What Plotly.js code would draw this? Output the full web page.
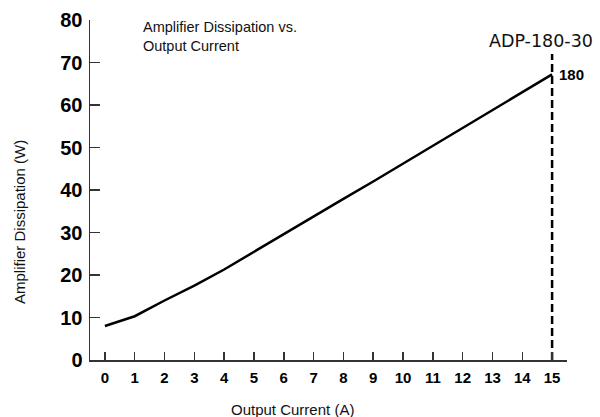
<!DOCTYPE html>
<html>
<head>
<meta charset="utf-8">
<script src="https://cdn.plot.ly/plotly-3.0.1.min.js"></script>
<style>
html,body{margin:0;padding:0;background:#fff;}
#chart{width:600px;height:417px;}
</style>
</head>
<body>
<div id="chart"></div>
<script>
// Data
const currentA = [0, 1, 2, 3, 4, 5, 6, 7, 8, 9, 10, 11, 12, 13, 14, 15];
const dissipationW = [8.0, 10.3, 14.0, 17.5, 21.3, 25.5, 29.6, 33.8, 37.9, 42.0, 46.2, 50.4, 54.5, 58.7, 62.9, 67.2];
const limitX = [15, 15];
const limitY = [0, 72];
const modelLabel = "ADP-180-30";
const endLabel = "180";
const xTicks = [0, 1, 2, 3, 4, 5, 6, 7, 8, 9, 10, 11, 12, 13, 14, 15];
const yTicks = [0, 10, 20, 30, 40, 50, 60, 70, 80];

const axisColor = '#333';
const traces = [
  {
    x: currentA, y: dissipationW, type: 'scatter', mode: 'lines',
    line: {color: '#000', width: 2.5}, hoverinfo: 'skip', showlegend: false
  },
  {
    x: limitX, y: limitY, type: 'scatter', mode: 'lines',
    line: {color: '#000', width: 2.5, dash: '8px,4px'}, hoverinfo: 'skip', showlegend: false
  }
];

const layout = {
  width: 600, height: 417,
  margin: {l: 90, r: 33, t: 20, b: 57},
  paper_bgcolor: '#fff', plot_bgcolor: '#fff',
  showlegend: false,
  xaxis: {
    range: [-0.5, 15.5], tickvals: xTicks, ticktext: xTicks.map(String),
    ticks: 'inside', ticklen: 8, tickwidth: 1.5, tickcolor: axisColor,
    showline: true, linecolor: axisColor, linewidth: 1.5,
    showgrid: false, zeroline: false, ticklabelstandoff: 3,
    tickfont: {family: 'Liberation Sans, Arial, sans-serif', size: 15, weight: 'bold', color: '#000'}
  },
  yaxis: {
    range: [0, 80], tickvals: yTicks, ticktext: yTicks.map(String),
    ticks: 'inside', ticklen: 10, tickwidth: 1.5, tickcolor: axisColor,
    showline: true, linecolor: axisColor, linewidth: 1.5,
    showgrid: false, zeroline: false, ticklabelstandoff: 2,
    tickfont: {family: 'Liberation Sans, Arial, sans-serif', size: 20, weight: 'bold', color: '#000'}
  },
  annotations: [
    {
      text: 'Amplifier Dissipation vs.<br>Output Current',
      xref: 'paper', yref: 'paper', x: (142 - 90) / 477, y: (360 - 18) / 340,
      xanchor: 'left', yanchor: 'top', align: 'left', showarrow: false, borderpad: 0,
      font: {family: 'Liberation Sans, Arial, sans-serif', size: 14.5, color: '#111'}
    },
    {
      text: 'Output Current (A)',
      xref: 'paper', yref: 'paper', x: (292 - 90) / 477, y: (360 - 409) / 340,
      xanchor: 'center', yanchor: 'middle', showarrow: false,
      font: {family: 'Liberation Sans, Arial, sans-serif', size: 15, color: '#111'}
    },
    {
      text: 'Amplifier Dissipation (W)', textangle: -90,
      xref: 'paper', yref: 'paper', x: (19 - 90) / 477, y: (360 - 222) / 340,
      xanchor: 'center', yanchor: 'middle', showarrow: false,
      font: {family: 'Liberation Sans, Arial, sans-serif', size: 15, color: '#111'}
    },
    {
      text: modelLabel,
      xref: 'x', yref: 'paper', x: limitX[0], y: (360 - 41) / 340,
      xanchor: 'center', yanchor: 'middle', xshift: -11, showarrow: false,
      font: {family: 'DejaVu Sans, Verdana, sans-serif', size: 17.5, color: '#111'}
    },
    {
      text: '<b>' + endLabel + '</b>',
      xref: 'x', yref: 'y', x: currentA[currentA.length - 1], y: dissipationW[dissipationW.length - 1],
      xanchor: 'left', yanchor: 'middle', xshift: 5, showarrow: false,
      font: {family: 'Liberation Sans, Arial, sans-serif', size: 15, color: '#000'}
    }
  ]
};

Plotly.newPlot('chart', traces, layout, {displayModeBar: false, staticPlot: true});
</script>
</body>
</html>
